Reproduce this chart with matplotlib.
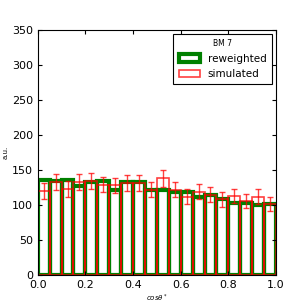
import numpy as np
import matplotlib
matplotlib.use('Agg')
import matplotlib.pyplot as plt

# bins in cos(theta*)
bin_edges = np.linspace(0.0, 1.0, 21)
bin_centers = 0.5 * (bin_edges[:-1] + bin_edges[1:])

# values
reweighted = [136, 134, 136, 127, 133, 134, 122, 133, 133, 122,
              121, 119, 118, 111, 114, 108, 103, 103, 100, 102]
simulated = [120, 133, 123, 133, 135, 129, 128, 131, 132, 122,
             138, 122, 112, 119, 115, 108, 113, 106, 112, 102]
sim_err = [11, 11.5, 11, 11.5, 11.5, 11, 11, 11.5, 11.5, 11,
           11.5, 11, 10.5, 11, 10.5, 10.5, 10.5, 10.5, 10.5, 10]

plt.rcParams['xtick.direction'] = 'in'
plt.rcParams['ytick.direction'] = 'in'
plt.rcParams['xtick.top'] = True
plt.rcParams['ytick.right'] = True

fig = plt.figure(figsize=(3.07, 3.07), dpi=100)
ax = fig.add_axes([0.123, 0.104, 0.776, 0.798])

ax.hist(bin_centers, bins=bin_edges, weights=reweighted, histtype='bar',
        fill=False, edgecolor='green', linewidth=3.0, label='reweighted')
ax.hist(bin_centers, bins=bin_edges, weights=simulated, histtype='bar',
        fill=False, edgecolor='red', linewidth=1.2, alpha=0.75, label='simulated')
ax.errorbar(bin_centers, simulated, yerr=sim_err, fmt='none', ecolor='red',
            elinewidth=1.0, capsize=2.5, alpha=0.75)

ax.set_xlim(0, 1)
ax.set_ylim(0, 350)
ax.tick_params(labelsize=8, length=3)
ax.set_xlabel(r'$cos\theta^*$', fontsize=5, labelpad=2)
ax.set_ylabel('a.u.', fontsize=5, labelpad=2)

leg = ax.legend(loc='upper right', title='BM 7', fontsize=7.5, fancybox=False,
                framealpha=1, handlelength=2.0, borderaxespad=0.4,
                borderpad=0.5)
leg.get_title().set_fontsize(5.5)
leg.get_frame().set_edgecolor('black')
leg.get_frame().set_linewidth(0.8)

fig.savefig('out.png', dpi=100)
